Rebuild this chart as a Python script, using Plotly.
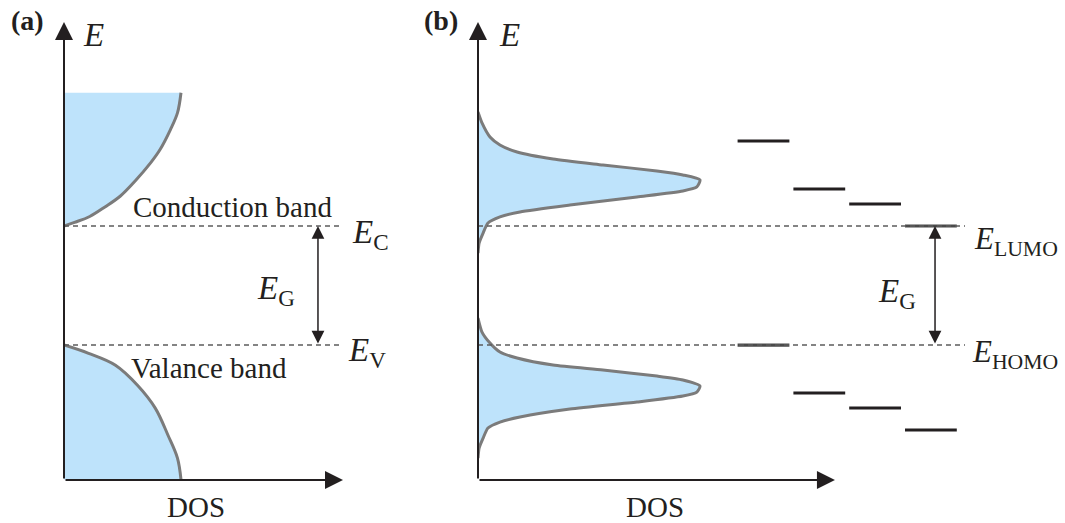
import plotly.graph_objects as go

# ---------------- data ----------------
# Panel (a): band edges (energy units: E_V = 0, E_C = 1)
E_C = 1.0
E_V = 0.0
# conduction band DOS curve (DOS, E)
cb_dos = [0.0, 0.09, 0.22, 0.35, 0.48, 0.61, 0.74, 0.82, 0.91, 0.97, 1.0]
cb_E = [1.00, 1.03, 1.08, 1.16, 1.25, 1.38, 1.53, 1.64, 1.81, 1.95, 2.12]
# valence band DOS curve
vb_dos = [0.0, 0.21, 0.44, 0.63, 0.78, 0.89, 0.97, 1.0]
vb_E = [0.0, -0.07, -0.17, -0.34, -0.53, -0.76, -0.95, -1.13]

# Panel (b): frontier levels (E_HOMO = 0, E_LUMO = 1)
E_LUMO = 1.0
E_HOMO = 0.0
# LUMO-side Gaussian-like DOS
lu_dos = [0.0, 0.018, 0.054, 0.099, 0.176, 0.338, 0.563, 0.806, 0.923, 1.0,
          0.986, 0.923, 0.716, 0.414, 0.189, 0.099, 0.045, 0.023, 0.005, 0.0]
lu_E = [1.958, 1.866, 1.748, 1.681, 1.622, 1.563, 1.513, 1.462, 1.429, 1.387,
        1.328, 1.294, 1.244, 1.176, 1.118, 1.076, 1.025, 0.941, 0.857, 0.773]
# HOMO-side Gaussian-like DOS
ho_dos = [0.0, 0.018, 0.054, 0.099, 0.176, 0.338, 0.563, 0.806, 0.923, 1.0,
          0.986, 0.923, 0.716, 0.414, 0.189, 0.099, 0.045, 0.023, 0.005, 0.0]
ho_E = [0.227, 0.109, 0.017, -0.059, -0.109, -0.168, -0.210, -0.261, -0.294, -0.345,
        -0.395, -0.429, -0.479, -0.538, -0.605, -0.647, -0.697, -0.782, -0.866, -0.950]
# discrete molecular levels (column index, energy)
upper_cols = [1, 2, 3]
upper_E = [1.714, 1.311, 1.185]
lower_cols = [2, 3, 4]
lower_E = [-0.403, -0.529, -0.714]
frontier_cols = [4, 1]
frontier_E = [E_LUMO, E_HOMO]

# axis extents
E_MIN, E_MAX = -1.134, 2.714
A_DOS_MAX = 2.385      # panel (a) DOS axis length
B_DOS_MAX = 1.608      # panel (b) DOS axis length
B_XRANGE = 2.194       # panel (b) drawing width (levels + labels)
A_GAP_X = 2.171        # position of E_G arrow in (a)
B_GAP_X = 2.059        # position of E_G arrow in (b)

# ---------------- styles ----------------
FILL = "#bee3fb"
CURVE = "#7b7b7b"
INK = "#231f20"
DASH = "#5c5c5c"
FONT = "Liberation Serif"

W, H = 1065, 523
def px(x):
    return x / W
def py(y):
    return 1 - y / H

fig = go.Figure()

def band(xs, ys, xa, ya, smooth):
    fig.add_trace(go.Scatter(x=xs, y=ys, xaxis=xa, yaxis=ya, mode="lines",
                             fill="tozerox", fillcolor=FILL,
                             line=dict(color=CURVE, width=3, shape="spline", smoothing=smooth),
                             cliponaxis=False, hoverinfo="skip", showlegend=False))

band(cb_dos, cb_E, "x", "y", 1.0)
band(vb_dos, vb_E, "x", "y", 1.0)
band(lu_dos, lu_E, "x2", "y2", 0.6)
band(ho_dos, ho_E, "x2", "y2", 0.6)

# discrete levels
fig.add_trace(go.Scatter(x=upper_cols + lower_cols, y=upper_E + lower_E,
                         xaxis="x3", yaxis="y2", mode="markers",
                         marker=dict(symbol="line-ew", size=37,
                                     line=dict(color=INK, width=3.2)),
                         cliponaxis=False, hoverinfo="skip", showlegend=False))
fig.add_trace(go.Scatter(x=frontier_cols, y=frontier_E,
                         xaxis="x3", yaxis="y2", mode="markers",
                         marker=dict(symbol="line-ew", size=37,
                                     line=dict(color="#4a4a4a", width=3.2)),
                         cliponaxis=False, hoverinfo="skip", showlegend=False))

# dashed reference lines
shapes = []
for e in (E_C, E_V):
    shapes.append(dict(type="line", xref="x", yref="y", x0=0, x1=A_DOS_MAX * 0.99,
                       y0=e, y1=e, line=dict(color=DASH, width=1.5, dash="5px,4px")))
for e in (E_LUMO, E_HOMO):
    shapes.append(dict(type="line", xref="x2", yref="y2", x0=0, x1=B_XRANGE,
                       y0=e, y1=e, line=dict(color=DASH, width=1.5, dash="5px,4px")))

ann = []
def arrow(xa, ya, x, y, ax, ay, width=2, size=1.3, both=False):
    ann.append(dict(x=x, y=y, ax=ax, ay=ay, xref=xa, yref=ya, axref=xa, ayref=ya,
                    text="", showarrow=True, arrowhead=2, arrowsize=size,
                    arrowwidth=width, arrowcolor=INK, standoff=0, startstandoff=0,
                    arrowside="end+start" if both else "end",
                    startarrowhead=2, startarrowsize=size))

# coordinate axes with arrowheads
arrow("x", "y", 0, E_MAX, 0, E_MIN, width=2, size=1.8)
arrow("x", "y", A_DOS_MAX, E_MIN, 0, E_MIN, width=2, size=1.8)
arrow("x2", "y2", 0, E_MAX, 0, E_MIN, width=2, size=1.8)
arrow("x2", "y2", B_DOS_MAX, E_MIN, 0, E_MIN, width=2, size=1.8)
# gap arrows
arrow("x", "y", A_GAP_X, E_C, A_GAP_X, E_V, width=1.5, size=1.7, both=True)
arrow("x2", "y2", B_GAP_X, E_LUMO, B_GAP_X, E_HOMO, width=1.5, size=1.7, both=True)

def label(text, x, y, size=29, xanchor="center", yanchor="middle"):
    ann.append(dict(text=text, x=px(x), y=py(y), xref="paper", yref="paper",
                    showarrow=False, xanchor=xanchor, yanchor=yanchor,
                    font=dict(family=FONT, size=size, color=INK)))

label("<b>(a)</b>", 27, 21, size=28)
label("<i>E</i>", 93, 35, size=33)
label("Conduction band", 232, 207)
label("Valance band", 209, 368)
label("<i>E</i><sub>C</sub>", 350, 234, size=33, xanchor="left")
label("<i>E</i><sub>V</sub>", 346, 352, size=33, xanchor="left")
label("<i>E</i><sub>G</sub>", 255, 290, size=33, xanchor="left")
label("DOS", 196, 507)

label("<b>(b)</b>", 441, 21, size=28)
label("<i>E</i>", 510, 35, size=33)
label("<i>E</i><sub>LUMO</sub>", 972, 241, size=31, xanchor="left")
label("<i>E</i><sub>HOMO</sub>", 970, 354, size=31, xanchor="left")
label("<i>E</i><sub>G</sub>", 876, 293, size=33, xanchor="left")
label("DOS", 655, 507)

ydom = [py(480), py(22)]
hidden = dict(visible=False, fixedrange=True)
fig.update_layout(
    width=W, height=H, margin=dict(l=0, r=0, t=0, b=0),
    paper_bgcolor="white", plot_bgcolor="white", showlegend=False,
    xaxis=dict(domain=[px(64), px(343)], range=[0, A_DOS_MAX], anchor="y", **hidden),
    yaxis=dict(domain=ydom, range=[E_MIN, E_MAX], anchor="x", **hidden),
    xaxis2=dict(domain=[px(478), px(965)], range=[0, B_XRANGE], anchor="y2", **hidden),
    yaxis2=dict(domain=ydom, range=[E_MIN, E_MAX], anchor="x2", **hidden),
    xaxis3=dict(overlaying="x2", range=[-4.116, 4.611], anchor="y2", **hidden),
    shapes=shapes, annotations=ann,
)

# remove the default page margin so the figure fills the window exactly
fig.write_html("out.html", config={"displayModeBar": False},
               post_script="document.body.style.margin='0';")
